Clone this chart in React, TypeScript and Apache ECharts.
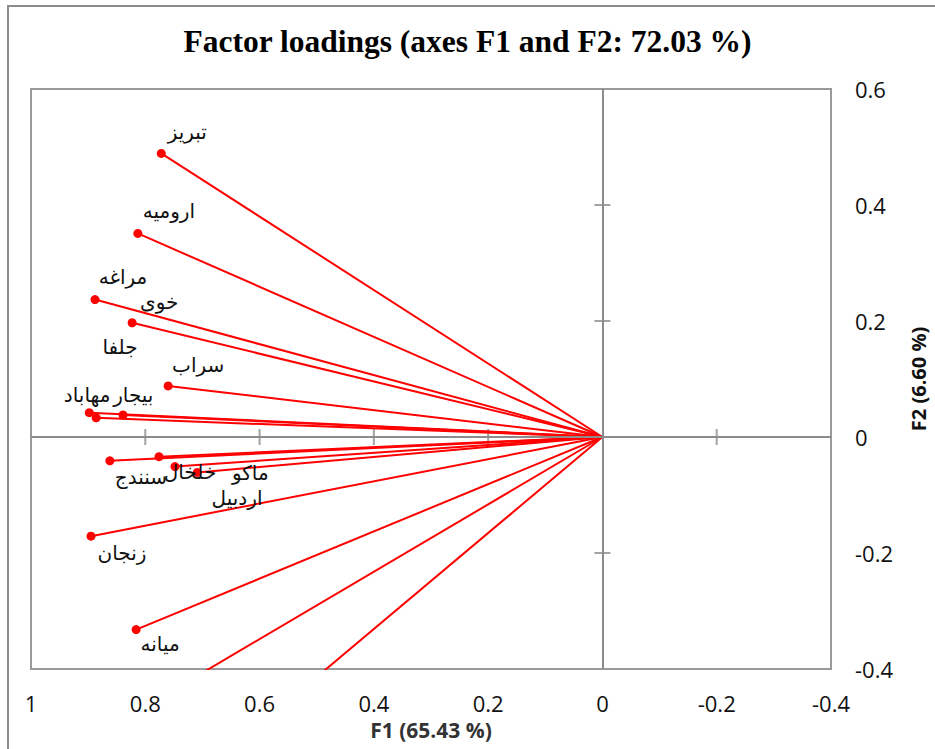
import React, { useEffect, useRef } from 'react';
import * as echarts from 'echarts';

const variables = ['تبریز', 'ارومیه', 'مراغه', 'خوی', 'سراب', 'بیجار', 'مهاباد', 'جلفا', 'سنندج', 'خلخال', 'اردبیل', 'ماکو', 'زنجان', 'میانه', '', ''];
const f1 = [0.772, 0.813, 0.888, 0.823, 0.760, 0.898, 0.886, 0.839, 0.862, 0.776, 0.748, 0.709, 0.895, 0.816, 0.78, 0.58];
const f2 = [0.489, 0.351, 0.237, 0.197, 0.088, 0.042, 0.033, 0.038, -0.041, -0.034, -0.051, -0.061, -0.171, -0.332, -0.453, -0.48];
const labelOffsets = [[26, -21], [31, -22], [28, -23], [27, -21], [30, -21], [44, -18], [-9, -23], [-3, -68], [31, 16], [31, 15], [62, 31], [53, 1], [31, 17], [24, 14], [0, 0], [0, 0]];
const f1Ticks = [0.8, 0.6, 0.4, 0.2, -0.2];
const f2Ticks = [0.4, 0.2, 0, -0.2];

const titleText = 'Factor loadings (axes F1 and F2: 72.03 %)';
const f1Name = 'F1 (65.43 %)';
const f2Name = 'F2 (6.60 %)';

export default function App() {
  const ref = useRef<HTMLDivElement>(null);
  useEffect(() => {
    if (!ref.current) return;
    const chart = echarts.init(ref.current, null, { renderer: 'svg' });
    const red = '#ff0000';
    const gray = '#8c8c8c';
    const sans = '"Open Sans", sans-serif';
    const labelFont = '"DejaVu Sans", sans-serif';

    const vectorSeries = variables.map((name, i) => ({
      type: 'line',
      name: name || 'v' + i,
      z: 4,
      clip: true,
      symbol: 'circle',
      symbolSize: 9,
      showSymbol: true,
      silent: true,
      lineStyle: { color: red, width: 2 },
      itemStyle: { color: red },
      label: {
        show: name !== '',
        position: 'inside',
        offset: labelOffsets[i],
        formatter: name,
        color: '#111',
        fontSize: 20,
        fontFamily: labelFont,
        textBorderWidth: 0,
        align: 'center',
        verticalAlign: 'middle',
      },
      data: [
        { value: [0, 0], symbol: 'none', label: { show: false } },
        { value: [f1[i], f2[i]], name },
      ],
    }));

    const tickSeries = [
      {
        type: 'scatter',
        z: 2,
        silent: true,
        symbol: 'rect',
        symbolSize: [2, 16],
        itemStyle: { color: gray },
        data: f1Ticks.map((v) => [v, 0]),
        markLine: {
          silent: true,
          symbol: 'none',
          label: { show: false },
          lineStyle: { color: gray, width: 2, type: 'solid' },
          data: [{ xAxis: 0 }, { yAxis: 0 }],
        },
      },
      {
        type: 'scatter',
        z: 2,
        silent: true,
        symbol: 'rect',
        symbolSize: [16, 2],
        itemStyle: { color: gray },
        data: f2Ticks.map((v) => [0, v]),
      },
    ];

    chart.setOption({
      animation: false,
      backgroundColor: '#ffffff',
      title: {
        text: titleText,
        left: 'center',
        top: 20,
        padding: [5, 5, 5, 17],
        textStyle: {
          fontFamily: '"Liberation Serif", "Times New Roman", serif',
          fontWeight: 'bold',
          fontSize: 31.5,
          color: '#000',
        },
      },
      graphic: [
        {
          type: 'rect',
          shape: { x: 8, y: 6, width: 960, height: 780 },
          style: { fill: 'none', stroke: gray, lineWidth: 2 },
          silent: true,
        },
      ],
      grid: {
        left: 31,
        top: 89,
        right: 104,
        bottom: 80,
        show: true,
        outerBoundsMode: 'none',
        containLabel: false,
        borderColor: '#9a9a9a',
        borderWidth: 2,
        backgroundColor: 'transparent',
      },
      xAxis: {
        type: 'value',
        inverse: true,
        min: -0.4,
        max: 1,
        interval: 0.2,
        position: 'bottom',
        name: f1Name,
        nameLocation: 'middle',
        nameGap: 50,
        nameTextStyle: { fontFamily: sans, fontWeight: 'bold', fontSize: 21, color: '#333' },
        axisLine: { show: false },
        axisTick: { show: false },
        splitLine: { show: false },
        axisLabel: { fontFamily: sans, fontSize: 22, color: '#111', margin: 23 },
      },
      yAxis: {
        type: 'value',
        min: -0.4,
        max: 0.6,
        interval: 0.2,
        position: 'right',
        name: f2Name,
        nameLocation: 'middle',
        nameRotate: 90,
        nameGap: 77,
        nameTextStyle: { fontFamily: sans, fontWeight: 'bold', fontSize: 20, color: '#111' },
        axisLine: { show: false },
        axisTick: { show: false },
        splitLine: { show: false },
        axisLabel: { fontFamily: sans, fontSize: 22, color: '#111', margin: 24 },
      },
      series: [...tickSeries, ...vectorSeries],
    });
    return () => chart.dispose();
  }, []);

  return (
    <div
      ref={ref}
      style={{ position: 'fixed', left: 0, top: 0, width: 935, height: 749, background: '#fff' }}
    />
  );
}
